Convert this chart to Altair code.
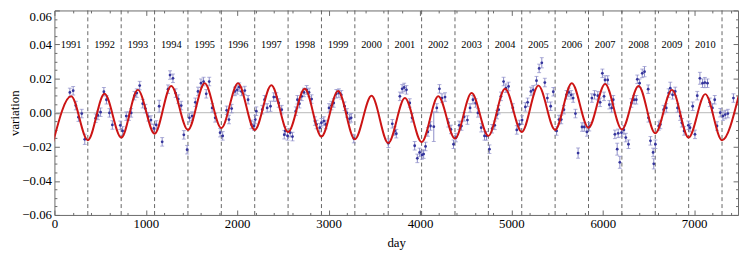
import altair as alt
import pandas as pd

# ---------------- data ----------------
years = list(range(1991, 2011))

# fitted annual-modulation curve: its maxima and minima (day, variation)
curve_day = [-15, 183, 365, 548, 731, 913, 1096, 1278, 1461, 1644, 1826, 2009, 2192, 2374,
             2557, 2739, 2922, 3104, 3287, 3470, 3653, 3835, 4018, 4200, 4383, 4565, 4748,
             4931, 5114, 5296, 5479, 5661, 5844, 6026, 6209, 6392, 6575, 6757, 6940, 7122,
             7305, 7487]
curve_val = [-0.0174, 0.0096, -0.0161, 0.0111, -0.0146, 0.0134, -0.0123, 0.0157, -0.0101,
             0.0173, -0.0090, 0.0173, -0.0101, 0.0161, -0.0113, 0.0140, -0.0140, 0.0127,
             -0.0156, 0.0099, -0.0178, 0.0086, -0.0172, 0.0096, -0.0152, 0.0115, -0.0136,
             0.0140, -0.0113, 0.0159, -0.0101, 0.0173, -0.0088, 0.0169, -0.0098, 0.0157,
             -0.0121, 0.0134, -0.0146, 0.0109, -0.0161, 0.0098]

# measured points
obs_day = [169, 205, 234, 263, 299, 332, 451, 476, 505, 541, 569, 602, 634, 721, 746, 786,
           815, 840, 876, 901, 933, 966, 995, 1027, 1056, 1088, 1114, 1146, 1179, 1243,
           1265, 1297, 1326, 1355, 1387, 1416, 1452, 1477, 1506, 1542, 1571, 1604, 1632,
           1661, 1694, 1726, 1759, 1813, 1841, 1885, 1910, 1939, 1975, 2000, 2022, 2047,
           2083, 2119, 2155, 2184, 2198, 2209, 2274, 2299, 2328, 2364, 2400, 2429, 2454,
           2487, 2515,
           2526, 2551, 2580, 2605, 2641, 2659, 2681, 2706, 2731, 2760, 2786, 2814, 2850,
           2868, 2904, 2922, 2948, 2969, 3005, 3031, 3056, 3085, 3113, 3139, 3175, 3200,
           3229, 3247, 3276, 3654, 3697, 3723, 3741,
           3780, 3805, 3827, 3852, 3888, 3913, 3942, 3971, 3996, 4021, 4040, 4061, 4086,
           4115, 4151, 4184, 4213, 4241, 4274, 4310, 4339, 4367, 4393, 4429, 4454, 4483,
           4519, 4548, 4580, 4609, 4634, 4670, 4706, 4728, 4760, 4789, 4818, 4843, 4861,
           4886, 4915, 4940, 4969,
           5016, 5059, 5088, 5117, 5153, 5178, 5214, 5239, 5275, 5304, 5333, 5366, 5394,
           5430, 5459, 5495, 5521, 5546, 5575, 5603, 5629, 5654, 5676, 5701, 5730, 5773,
           5798, 5827, 5852, 5881, 5910, 5946, 5971, 5996, 6014, 6025, 6054, 6072, 6097,
           6115, 6133, 6158, 6169, 6187, 6205, 6231, 6252,
           6281, 6313, 6342, 6367, 6378, 6403, 6432, 6457, 6497, 6500, 6522, 6551, 6558,
           6576, 6612, 6630, 6666, 6695, 6721, 6739, 6764, 6793, 6818, 6847, 6865, 6890,
           6937, 6955, 6984, 7009, 7034, 7063, 7092, 7117, 7146, 7171, 7200, 7225, 7250,
           7286, 7315, 7340, 7369, 7430]
obs_val = [0.0119, 0.0129, 0.0042, -0.0026, -0.0005, -0.0156, -0.0032, -0.0016, 0.0003,
           0.0123, 0.0076, -0.0001, -0.0072, -0.0074, -0.0107, -0.0020, -0.0020, -0.0001,
           0.0100, 0.0115, 0.0159, 0.0053, 0.0024, -0.0024, -0.0043, -0.0092, -0.0072,
           0.0038, -0.0171, 0.0138,
           0.0221, 0.0202, 0.0115, 0.0080, 0.0042, -0.0130, -0.0217, -0.0030, -0.0020,
           0.0061, 0.0125, 0.0173, 0.0183, 0.0111, 0.0183, 0.0028, -0.0030, -0.0117,
           -0.0136, 0.0014, -0.0040, 0.0024, 0.0125, 0.0134, 0.0150, 0.0125, 0.0130, 0.0076,
           -0.0069, -0.0078, -0.0040, 0.0009, 0.0018, 0.0076, 0.0028, 0.0038, 0.0092,
           0.0092, 0.0057, 0.0018, -0.0129,
           -0.0107, -0.0136, -0.0117, -0.0140, 0.0009, 0.0076, 0.0053, 0.0096, 0.0119,
           0.0134, 0.0119, 0.0080, -0.0049, -0.0069, -0.0088, -0.0059, -0.0049, -0.0069,
           0.0028, 0.0042, 0.0057, 0.0111, 0.0115, 0.0105, 0.0038, -0.0001, -0.0036,
           -0.0030, -0.0152, -0.0179, -0.0065, -0.0107, -0.0123,
           0.0096, 0.0140, 0.0148, 0.0134, 0.0057, -0.0030, -0.0194, -0.0268, -0.0233,
           -0.0248, -0.0243, -0.0198, -0.0113, -0.0078, -0.0082, 0.0028, 0.0140, 0.0086,
           0.0092, -0.0059, -0.0098, -0.0185, -0.0146, -0.0074, -0.0078, -0.0024, -0.0043,
           0.0028, 0.0076, 0.0057, -0.0001, -0.0088, -0.0136, -0.0136, -0.0214, -0.0094,
           -0.0074, -0.0011, 0.0018, 0.0096, 0.0183, 0.0144, 0.0154,
           0.0028, -0.0101, -0.0069, -0.0043, 0.0034, 0.0061, 0.0125, 0.0134, 0.0188,
           0.0260, 0.0293, 0.0177, 0.0086, 0.0038, 0.0123, -0.0107, -0.0040, -0.0040,
           0.0018, 0.0105, 0.0119, 0.0105, 0.0086, -0.0005, -0.0237, -0.0084, -0.0084,
           -0.0113, -0.0082, 0.0086, 0.0105, 0.0100, 0.0061, 0.0231, 0.0096, 0.0192,
           0.0192, 0.0047, 0.0028, 0.0076, -0.0127, -0.0214, -0.0121, -0.0291, -0.0117,
           -0.0101, -0.0146,
           -0.0185, 0.0057, 0.0076, 0.0076, 0.0196, 0.0173, 0.0231, 0.0241, 0.0138,
           -0.0030, -0.0165, -0.0233, -0.0300, -0.0185, -0.0078, -0.0069, 0.0018, 0.0028,
           0.0115, 0.0144, 0.0105, 0.0125, 0.0028, -0.0020, -0.0059, -0.0107, -0.0074,
           -0.0088, 0.0038, -0.0127, 0.0100, 0.0202, 0.0173, 0.0177, 0.0173, 0.0061,
           0.0028, 0.0076, -0.0078, 0.0000, -0.0020, -0.0011, -0.0005, 0.0086]

err_default = 0.0025
err_wide = {332: 0.003, 1146: 0.0035, 2364: 0.003, 4151: 0.0087, 5730: 0.003,
            6158: 0.0035, 6187: 0.0035, 6558: 0.003, 6739: 0.0035, 7063: 0.0035,
            7117: 0.003, 5333: 0.003, 6457: 0.003}

x_major = [0, 1000, 2000, 3000, 4000, 5000, 6000, 7000]
x_ticks = list(range(0, 7401, 200))
y_major = [-0.06, -0.04, -0.02, 0.0, 0.02, 0.04, 0.06]
y_ticks = [round(-0.06 + 0.005 * i, 3) for i in range(25)]

# ---------------- styling ----------------
W, H = 692, 207
FONT = "Liberation Serif"
FRAME = "#6a6a6a"
RED = "#cc1414"
PT = "#34349c"
EB = "#8c8cc8"

obs = pd.DataFrame({"day": obs_day, "v": obs_val})
obs["err"] = [err_wide.get(d, err_default) for d in obs_day]
curve = pd.DataFrame({"day": curve_day, "v": curve_val})
yrs = pd.DataFrame({"year": years})
zero = pd.DataFrame({"v": [0.0]})

xs = alt.Scale(domain=[0, 7480], nice=False, zero=False)
ys = alt.Scale(domain=[-0.06, 0.06], nice=False, zero=False)

x_major_test = "datum.value % 1000 === 0"
y_major_test = "abs(datum.value * 50 - round(datum.value * 50)) < 0.01"

ax_x_label = alt.Axis(orient="bottom", values=x_major, format="d", ticks=False, domain=False,
                      grid=False, title="day", labelPadding=3, titlePadding=6,
                      labelFlush=False, labelOverlap=False)
ax_y_label = alt.Axis(orient="left", values=y_major, format=".2f", ticks=False, domain=False,
                      grid=False, title="variation", labelPadding=3, titlePadding=0,
                      labelFlush=False, labelOverlap=False,
                      labelBaseline={"condition": {"test": "datum.value > 0.055",
                                                   "value": "top"},
                                     "value": "middle"})


def tick_axis(orient, values, test):
    return alt.Axis(orient=orient, offset=-(H if orient in ("top", "bottom") else W),
                    values=values, labels=False, domain=False, grid=False, title=None,
                    tickColor=FRAME, tickWidth=1,
                    tickSize={"condition": {"test": test, "value": 5}, "value": 2.5})


zero_line = alt.Chart(zero).mark_rule(color="#b8b8b8", strokeWidth=1).encode(
    y=alt.Y("v:Q", scale=ys, axis=None))

dashed = alt.Chart(yrs).transform_calculate(
    b="(datum.year - 1990) * 365.25"
).mark_rule(color="#555555", strokeWidth=0.9, strokeDash=[4, 3]).encode(
    x=alt.X("b:Q", scale=xs, axis=None))

year_text = alt.Chart(yrs).transform_calculate(
    c="(datum.year - 1990.5) * 365.25", lvl="0.04"
).mark_text(font=FONT, fontSize=10.5, color="black", baseline="middle").encode(
    x=alt.X("c:Q", scale=xs, axis=None),
    y=alt.Y("lvl:Q", scale=ys, axis=None),
    text="year:N")

bars = alt.Chart(obs).transform_calculate(
    lo="datum.v - datum.err", hi="datum.v + datum.err"
).mark_rule(color=EB, strokeWidth=1).encode(
    x=alt.X("day:Q", scale=xs, axis=tick_axis("bottom", x_ticks, x_major_test)),
    y=alt.Y("lo:Q", scale=ys, axis=tick_axis("left", y_ticks, y_major_test)),
    y2="hi:Q")

caps = alt.Chart(obs).transform_calculate(
    lo="datum.v - datum.err", hi="datum.v + datum.err"
).transform_fold(["lo", "hi"], as_=["end", "yv"]).mark_tick(
    color=EB, orient="horizontal", size=4, thickness=1
).encode(
    x=alt.X("day:Q", scale=xs, axis=None),
    y=alt.Y("yv:Q", scale=ys, axis=None))

points = alt.Chart(obs).mark_point(filled=True, size=8, color=PT, opacity=1).encode(
    x=alt.X("day:Q", scale=xs, axis=tick_axis("top", x_ticks, x_major_test)),
    y=alt.Y("v:Q", scale=ys, axis=tick_axis("right", y_ticks, y_major_test)))

line = alt.Chart(curve).mark_line(color=RED, strokeWidth=2, interpolate="monotone",
                                  clip=True).encode(
    x=alt.X("day:Q", scale=xs, axis=ax_x_label),
    y=alt.Y("v:Q", scale=ys, axis=ax_y_label))

chart = alt.layer(zero_line, dashed, year_text, bars, caps, points, line).resolve_axis(
    x="independent", y="independent"
).properties(width=W, height=H, padding=0).configure_view(
    stroke=FRAME, strokeWidth=1
).configure_axis(
    labelFont=FONT, titleFont=FONT, labelFontSize=13, titleFontSize=13,
    labelColor="black", titleColor="black", titleFontWeight="normal"
)

chart.save("out.html", embed_options={"renderer": "svg", "actions": False})
